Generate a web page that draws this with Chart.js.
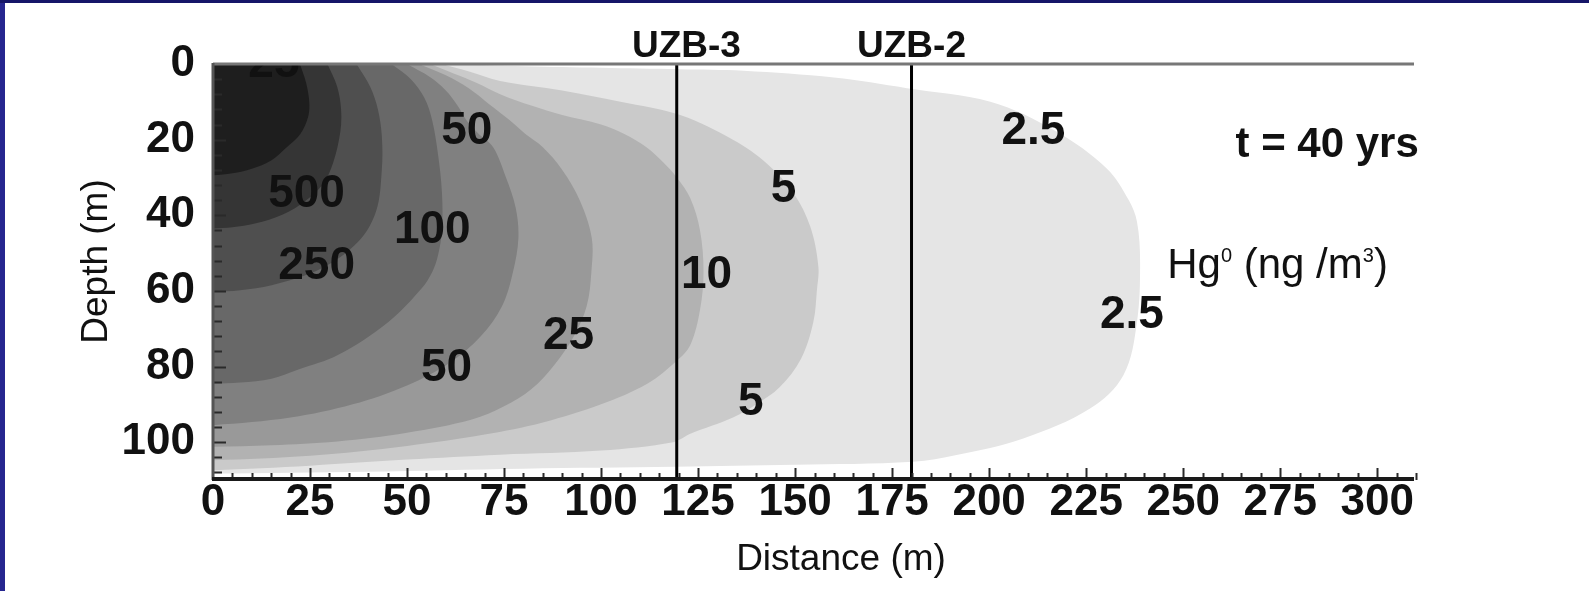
<!DOCTYPE html>
<html><head><meta charset="utf-8">
<script src="https://cdn.jsdelivr.net/npm/chart.js@4.4.1/dist/chart.umd.min.js"></script>
<style>
html,body{margin:0;padding:0;background:#fff;width:1589px;height:591px;overflow:hidden;}
#wrap{position:relative;width:1589px;height:591px;background:#fff;}
canvas{position:absolute;left:0;top:0;}
.bl{position:absolute;left:0;top:0;width:5px;height:591px;background:#26268f;}
.bt{position:absolute;left:0;top:0;width:1589px;height:3px;background:#161668;}
</style></head><body>
<div id="wrap"><canvas id="c" width="1589" height="591"></canvas><div class="bl"></div><div class="bt"></div></div>
<script>
// ---------- data ----------
const xTicks = [0, 25, 50, 75, 100, 125, 150, 175, 200, 225, 250, 275, 300];
const yTicks = [0, 20, 40, 60, 80, 100];

// contour boundaries [distance (m), depth (m)], innermost first
const bInner = [[22.4,0],[24,5],[24.8,10],[24.5,14],[22.5,18.5],[19,22],[15,25.5],[10,27.7],[5,28.9],[0,29.4]];
const b500 = [[29.5,0],[32,6],[33,12],[32.8,18],[31,26],[28.5,31.5],[24,36],[18,39.8],[10.8,42.2],[5,43.2],[0,43.5]];
const b250 = [[37,0],[40.5,6],[42.5,12],[43.5,19],[43.5,28],[42,39],[37.4,47],[28,54],[15.1,58.5],[7,59.8],[0,60.2]];
const b100 = [[46,0],[51,4],[54.5,9],[56.5,15],[58,24],[59,34],[59,44],[58,50.5],[56.5,55],[53.8,59.3],[45.2,68.2],[32.3,76.9],[22,80.8],[15.1,83.2],[7,84.2],[0,84.5]];
const b50 = [[50,0],[56,3.5],[60,7],[63,11],[65.4,15],[68.5,18.5],[72.2,22],[75.5,30],[78,38],[78.7,46],[77.3,55],[74.5,64],[69,72],[61,79],[50,85],[36,90],[20,93.5],[0,95.5]];
const b25 = [[53,0],[60,3],[66,6.5],[71,10.5],[76,14.5],[80.5,18.5],[85,22],[90,28],[94.5,36],[97.6,46],[97.5,55],[96.3,64],[93,72],[88,79.5],[82,86],[75,90.5],[66.7,94],[50,97.5],[32,99.8],[15,100.8],[0,101.2]];
const b10 = [[56,0],[62,2.5],[68,5],[74,8],[82,11],[90,13.5],[100,16],[106,18.5],[111.7,22],[116,26],[119.5,30],[123,35.5],[125.5,44],[126.4,55],[125.5,65],[123,74.3],[119.5,78.5],[112,84.5],[100,90],[85,94.8],[70,98],[50,101],[25,103.6],[0,104.8]];
const b5 = [[59,0],[66,2],[74,4.5],[90,7],[105,10],[120.4,13.5],[134.1,20.1],[142.7,26.3],[149.6,34.2],[153.9,43],[156,53.6],[155.6,60],[154.7,68.2],[151.5,78],[146,85.5],[140,90],[134,93.5],[123,97.8],[118.6,100],[100,102.2],[74,103.3],[50,104.6],[25,106.2],[0,107.4]];
const b2p5 = [[62,0],[80,0.6],[100,1.0],[120,1.4],[136.7,1.8],[160,3.6],[178.8,6.4],[200.3,10],[217.4,17.9],[230.3,27.6],[236,36],[238.1,41.7],[238.9,52.3],[238.1,68.2],[234.6,82.3],[226,91.1],[208.8,99],[191.6,103.4],[180.4,105.2],[150,106],[119,106.5],[80,107],[40,107.8],[0,108.3]];

const contours = [bInner, b500, b250, b100, b50, b25, b10, b5, b2p5];
const contourNames = ['inner', '500', '250', '100', '50', '25', '10', '5', '2.5'];

// observation wells (distance, m)
const wellNames = ['UZB-3', 'UZB-2'];
const wellX = [119.5, 180];

// contour labels [text, distance, depth]
const contourLabels = [
  ['25', 15.7, 0], ['500', 24.1, 34.4], ['250', 26.7, 53.6], ['100', 56.5, 44.1],
  ['50', 65.4, 17.9], ['50', 60.2, 80.5], ['25', 91.6, 71.9], ['10', 127.2, 55.8],
  ['5', 147, 33.1], ['5', 138.6, 89.5], ['2.5', 211.4, 17.9], ['2.5', 236.8, 66.4]
];

// ---------- styles ----------
const fills = ['#1e1e1e', '#353535', '#4f4f4f', '#686868', '#808080', '#999999', '#b2b2b2', '#cacaca', '#e5e5e5'];
const FAM = '"Liberation Sans", Arial, Helvetica, sans-serif';

const datasets = contours.map((pts, i) => {
  const first = pts[0], last = pts[pts.length - 1];
  const path = pts.map(p => ({x: p[0], y: p[1]}));
  // close the shape outside the plotting area (clipped away)
  path.push({x: -8, y: last[1]}, {x: -8, y: -8}, {x: first[0], y: -8});
  return {
    label: contourNames[i], data: path, fill: 'shape', backgroundColor: fills[i],
    borderWidth: 0, borderColor: 'rgba(0,0,0,0)', pointRadius: 0, tension: 0.35, order: i + 1
  };
});
wellX.forEach((wx, i) => {
  datasets.push({
    label: wellNames[i], data: [{x: wx, y: 0}, {x: wx, y: 110}], fill: false,
    borderColor: '#000', borderWidth: 3, pointRadius: 0, tension: 0, order: 0
  });
});

const deco = {
  id: 'deco',
  afterDatasetsDraw(chart) {
    const {ctx, chartArea: a, scales: {x: xs, y: ys}} = chart;
    ctx.save();
    // contour labels (clipped to plot)
    ctx.save();
    ctx.beginPath(); ctx.rect(a.left, a.top, a.right - a.left, a.bottom - a.top); ctx.clip();
    ctx.font = 'bold 46px ' + FAM; ctx.fillStyle = '#111';
    ctx.textAlign = 'center'; ctx.textBaseline = 'middle';
    contourLabels.forEach(l => ctx.fillText(l[0], xs.getPixelForValue(l[1]), ys.getPixelForValue(l[2])));
    ctx.restore();

    // top line (depth 0)
    const y0 = ys.getPixelForValue(0);
    ctx.strokeStyle = '#777'; ctx.lineWidth = 3;
    ctx.beginPath(); ctx.moveTo(a.left, y0); ctx.lineTo(xs.getPixelForValue(310) - 2, y0); ctx.stroke();

    // inward ticks
    ctx.strokeStyle = '#2a2a2a'; ctx.lineWidth = 2;
    ctx.beginPath();
    for (let v = 5; v <= 310; v += 5) {
      const px = Math.round(xs.getPixelForValue(v)) + 0.5;
      const len = (v % 25 === 0) ? 12 : 7;
      ctx.moveTo(px, a.bottom); ctx.lineTo(px, a.bottom - len);
    }
    for (let d = 4; d <= 108; d += 4) {
      const py = Math.round(ys.getPixelForValue(d)) + 0.5;
      const len = (d % 20 === 0) ? 13 : 9;
      ctx.moveTo(a.left, py); ctx.lineTo(a.left + len, py);
    }
    ctx.stroke();

    // axis lines
    ctx.strokeStyle = '#555'; ctx.lineWidth = 3;
    ctx.beginPath(); ctx.moveTo(a.left, y0 - 1); ctx.lineTo(a.left, a.bottom); ctx.stroke();
    ctx.strokeStyle = '#1a1a1a'; ctx.lineWidth = 4;
    ctx.beginPath(); ctx.moveTo(a.left - 1, a.bottom - 1); ctx.lineTo(a.right - 2, a.bottom - 1); ctx.stroke();

    // well names
    ctx.fillStyle = '#111'; ctx.font = 'bold 37px ' + FAM;
    ctx.textAlign = 'center'; ctx.textBaseline = 'alphabetic';
    ctx.fillText(wellNames[0], xs.getPixelForValue(wellX[0] + 2.5), a.top - 7.5);
    ctx.fillText(wellNames[1], xs.getPixelForValue(wellX[1]), a.top - 7);

    // time annotation
    ctx.font = 'bold 42px ' + FAM;
    ctx.fillText('t = 40 yrs', xs.getPixelForValue(287.1), ys.getPixelForValue(24.5));

    // units annotation  Hg^0 (ng /m^3)
    ctx.textAlign = 'left';
    let hx = xs.getPixelForValue(245.9);
    const hy = ys.getPixelForValue(56.6);
    const big = '42px ' + FAM, small = '20px ' + FAM;
    const parts = [['Hg', big, 0], ['0', small, -16], [' (ng /m', big, 0], ['3', small, -16], [')', big, 0]];
    parts.forEach(p => { ctx.font = p[1]; ctx.fillText(p[0], hx, hy + p[2]); hx += ctx.measureText(p[0]).width; });

    // axis titles
    ctx.font = '37px ' + FAM; ctx.textAlign = 'center';
    ctx.fillText('Distance (m)', a.left + 628, a.bottom + 90);
    ctx.save();
    ctx.translate(a.left - 106, a.top + 197.5);
    ctx.rotate(-Math.PI / 2);
    ctx.fillText('Depth (m)', 0, 0);
    ctx.restore();
    ctx.restore();
  }
};

new Chart(document.getElementById('c'), {
  type: 'line',
  data: {datasets},
  options: {
    responsive: false, devicePixelRatio: 1, animation: false, events: [],
    layout: {padding: {left: 0, top: 64, right: 173, bottom: 0}},
    elements: {line: {capBezierPoints: false}},
    plugins: {legend: {display: false}, tooltip: {enabled: false}, title: {display: false}},
    scales: {
      x: {
        type: 'linear', min: 0, max: 310,
        afterBuildTicks: s => { s.ticks = xTicks.map(v => ({value: v})); },
        afterFit: s => { s.height = 111; },
        grid: {display: false, drawTicks: false}, border: {display: false},
        ticks: {font: {family: FAM, size: 44, weight: 'bold', lineHeight: 1}, color: '#111', padding: 1, maxRotation: 0, autoSkip: false}
      },
      y: {
        type: 'linear', min: 0, max: 110, reverse: true,
        afterBuildTicks: s => { s.ticks = yTicks.map(v => ({value: v})); },
        afterFit: s => { s.width = 213; },
        grid: {display: false, drawTicks: false}, border: {display: false},
        ticks: {font: {family: FAM, size: 44, weight: 'bold'}, color: '#111', padding: 18, autoSkip: false}
      }
    }
  },
  plugins: [deco]
});
</script>
</body></html>
